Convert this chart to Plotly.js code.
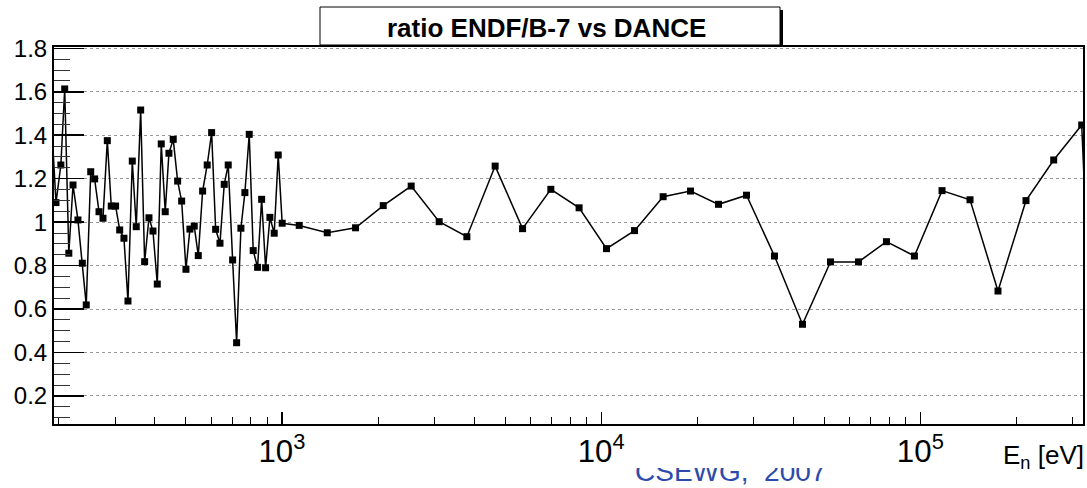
<!DOCTYPE html>
<html>
<head>
<meta charset="utf-8">
<script src="https://cdn.plot.ly/plotly-3.0.1.min.js"></script>
<style>
  html, body { margin: 0; padding: 0; background: #ffffff; }
  #chart { width: 1087px; height: 488px; position: absolute; left: 0; top: 0; }
  #footer { position: absolute; left: 0; top: 468px; width: 1087px; height: 20px; overflow: hidden; }
  #footer span { position: absolute; left: 635px; top: -10px; font-family: "Liberation Sans", Arial, sans-serif;
    font-size: 28px; line-height: 28px; color: rgb(45, 75, 170); white-space: pre; }
</style>
</head>
<body>
<div id="chart"></div>
<div id="footer"><span>CSEWG,  2007</span></div>
<script>
// Neutron energy (eV) of each bin
const energy_eV = [187, 196, 203, 208.7, 215, 221.6, 229.6, 237, 243.8, 251.8, 259, 267.3, 275.1, 283.8, 292,
  301.3, 310.3, 320, 329.4, 339.8, 349.7, 361, 371.5, 383.3, 394.5, 407, 418.8, 431, 442.6, 456.6, 471.3,
  485.2, 500.5, 515, 531.3, 547, 564.4, 583.4, 602.3, 620, 639.7, 659.6, 678.9, 700.8, 721.3, 743.9, 765.6,
  790, 813, 839, 864, 889, 917, 946, 973.7, 1002, 1133, 1387, 1701, 2077, 2541, 3109, 3797, 4656, 5674,
  6958, 8532, 10397, 12726, 15640, 19056, 23320, 28540, 34920, 42740, 52300, 64000, 78310, 95830, 116950,
  143100, 175100, 214300, 261700, 320300, 340000];
// Ratio ENDF/B-7 vs DANCE
const ratio = [1.63, 1.09, 1.263, 1.613, 0.857, 1.171, 1.010, 0.811, 0.619, 1.232, 1.199, 1.048, 1.018, 1.375,
  1.074, 1.074, 0.964, 0.926, 0.637, 1.281, 0.979, 1.516, 0.818, 1.020, 0.959, 0.715, 1.360, 1.048, 1.317,
  1.381, 1.189, 1.097, 0.783, 0.968, 0.982, 0.846, 1.143, 1.263, 1.412, 0.967, 0.903, 1.174, 1.263, 0.826,
  0.445, 0.972, 1.136, 1.404, 0.869, 0.792, 1.105, 0.790, 1.022, 0.949, 1.309, 0.995, 0.985, 0.951, 0.974,
  1.076, 1.166, 1.002, 0.933, 1.258, 0.970, 1.151, 1.066, 0.878, 0.961, 1.117, 1.143, 1.082, 1.124, 0.844,
  0.530, 0.817, 0.817, 0.910, 0.844, 1.145, 1.103, 0.683, 1.099, 1.286, 1.447, 0.57];

const titleText = 'ratio ENDF/B-7 vs DANCE';
const xAxisLabel = 'E<sub>n</sub> [eV]';
const xRange = [193.2, 323300];
const yRange = [0.071, 1.806];

const W = 1087, H = 488;
const M = {l: 54, r: 4, t: 47, b: 64};
const PW = W - M.l - M.r, PH = H - M.t - M.b;
const px = p => (p - M.l) / PW;          // pixel -> paper x
const py = p => (H - M.b - p) / PH;      // pixel -> paper y
const FONT = '"Liberation Sans", Arial, sans-serif';

const trace = {
  x: energy_eV, y: ratio, type: 'scatter', mode: 'lines+markers',
  line: {color: '#000000', width: 1.5},
  marker: {symbol: 'square', size: 7, color: '#000000'},
  hoverinfo: 'x+y'
};

const layout = {
  width: W, height: H,
  margin: M,
  paper_bgcolor: '#ffffff', plot_bgcolor: '#ffffff',
  showlegend: false,
  font: {family: FONT, color: '#000000'},
  xaxis: {
    type: 'log', range: xRange.map(Math.log10),
    dtick: 1, exponentformat: 'power', showexponent: 'all',
    ticks: 'inside', ticklen: 12, tickwidth: 1.2, tickcolor: '#000000',
    minor: {ticks: 'inside', ticklen: 7, tickwidth: 1, tickcolor: '#000000', dtick: 'D1', showgrid: false},
    showgrid: false, zeroline: false,
    showline: true, linecolor: '#000000', linewidth: 2, mirror: true,
    tickfont: {size: 25, family: FONT, color: '#000000'}
  },
  yaxis: {
    range: yRange, dtick: 0.2, tick0: 0,
    ticks: 'inside', ticklen: 30, tickwidth: 1.5, tickcolor: '#000000',
    minor: {ticks: 'inside', ticklen: 16, tickwidth: 1, tickcolor: '#333333', dtick: 0.05, showgrid: false},
    showgrid: true, gridcolor: '#9a9a9a', griddash: 'dot', gridwidth: 1,
    zeroline: false,
    showline: true, linecolor: '#000000', linewidth: 2, mirror: true,
    tickfont: {size: 24, family: FONT, color: '#000000'}
  },
  shapes: [
    {type: 'rect', xref: 'paper', yref: 'paper', layer: 'above',
     x0: px(323), x1: px(783), y0: py(47), y1: py(10),
     fillcolor: '#000000', line: {width: 0}},
    {type: 'rect', xref: 'paper', yref: 'paper', layer: 'above',
     x0: px(320), x1: px(780), y0: py(45), y1: py(7),
     fillcolor: '#ffffff', line: {color: '#000000', width: 1}}
  ],
  annotations: [
    {text: '<b>' + titleText + '</b>', xref: 'paper', yref: 'paper',
     x: px(546), y: py(28), xanchor: 'center', yanchor: 'middle', showarrow: false,
     font: {size: 26, family: FONT, color: '#000000'}},
    {text: xAxisLabel, xref: 'paper', yref: 'paper', x: 1, y: 0, xanchor: 'right', yanchor: 'top',
     xshift: 3, yshift: -14, showarrow: false,
     font: {size: 26, family: FONT, color: '#000000'}}
  ]
};

Plotly.newPlot('chart', [trace], layout, {displayModeBar: false, staticPlot: true});
</script>
</body>
</html>
